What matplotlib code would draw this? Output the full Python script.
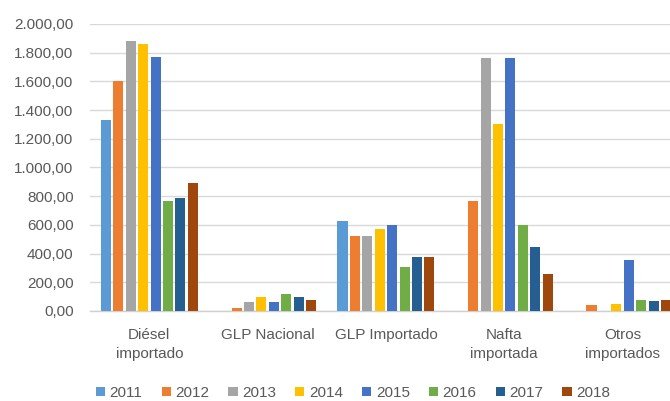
import matplotlib
matplotlib.use("Agg")
import matplotlib.pyplot as plt
import numpy as np
from matplotlib.ticker import FuncFormatter, MultipleLocator
from matplotlib.patches import Patch

categories = ["Diésel\nimportado", "GLP Nacional", "GLP Importado", "Nafta\nimportada", "Otros\nimportados"]
years = ["2011", "2012", "2013", "2014", "2015", "2016", "2017", "2018"]
v2011 = [1330, 0, 630, 0, 0]
v2012 = [1600, 20, 520, 770, 40]
v2013 = [1880, 60, 520, 1760, 0]
v2014 = [1860, 100, 570, 1300, 50]
v2015 = [1770, 60, 600, 1760, 355]
v2016 = [770, 120, 305, 600, 80]
v2017 = [785, 100, 375, 445, 70]
v2018 = [895, 80, 375, 255, 80]
series = [v2011, v2012, v2013, v2014, v2015, v2016, v2017, v2018]
colors = ["#5B9BD5", "#ED7D31", "#A5A5A5", "#FFC000", "#4472C4", "#70AD47", "#255E91", "#9E480E"]

plt.rcParams['font.family'] = ['Liberation Sans', 'DejaVu Sans']
fig = plt.figure(figsize=(6.7, 4.01), dpi=100)
ax = fig.add_axes([90.2/670, 1-311/401, (681.7-90.2)/670, (311-24)/401])

x = np.arange(len(categories))
slot = 0.105
bw = 0.085
for i, (vals, c) in enumerate(zip(series, colors)):
    ax.bar(x + (i - 3.5) * slot, vals, width=bw, color=c, zorder=3)

ax.set_xlim(-0.5, len(categories) - 0.5)
ax.set_ylim(0, 2000)
ax.yaxis.set_major_locator(MultipleLocator(200))

def fmt(v, pos):
    s = f"{v:,.2f}"
    return s.replace(",", "X").replace(".", ",").replace("X", ".")
ax.yaxis.set_major_formatter(FuncFormatter(fmt))

ax.grid(axis='y', color='#d9d9d9', linewidth=1.0, zorder=0)
for s in ['top', 'right', 'left']:
    ax.spines[s].set_visible(False)
ax.spines['bottom'].set_color('#d0d0d0')
ax.spines['bottom'].set_linewidth(1.0)
ax.tick_params(axis='y', length=0, pad=12, labelsize=11, labelcolor='#595959')
ax.tick_params(axis='x', length=0, pad=12, labelsize=11, labelcolor='#595959')
ax.set_xticks(x)
ax.set_xticklabels(categories, linespacing=1.45)

handles = [Patch(facecolor=c, edgecolor='none') for c in colors]
fig.legend(handles, years, loc='center', bbox_to_anchor=(353/670, 1-393/401), ncol=8,
           frameon=False, fontsize=11, handlelength=0.6, handleheight=0.6,
           handletextpad=0.3, columnspacing=1.25, labelcolor='#595959')

fig.savefig("out.png", dpi=100)
